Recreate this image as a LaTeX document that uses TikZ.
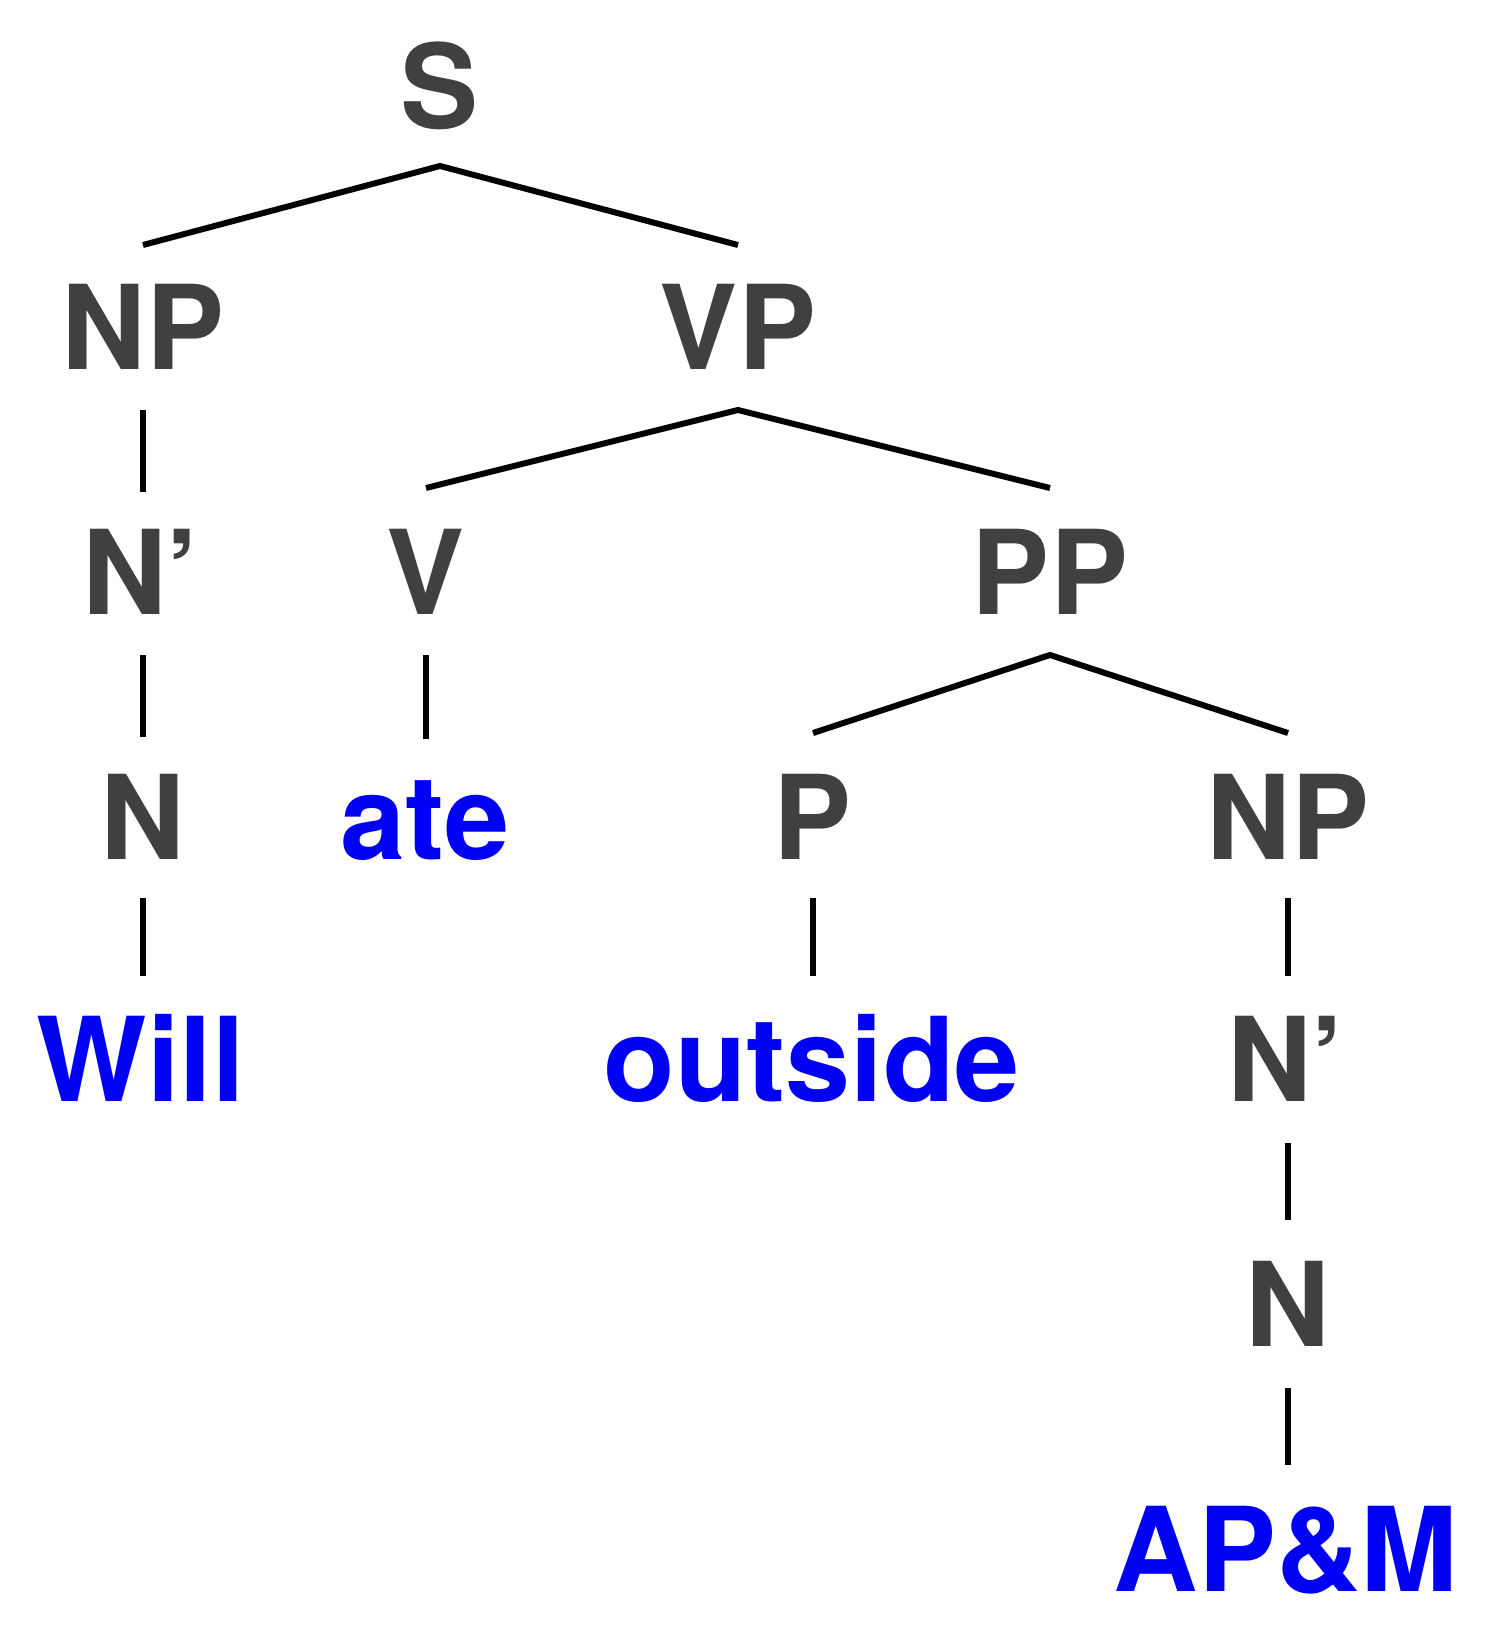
\documentclass[tikz,border=0pt]{standalone}
\usepackage{fontspec}
\setmainfont{TeX Gyre Heros}
\usetikzlibrary{calc}
\definecolor{catgray}{HTML}{404040}
\definecolor{wordblue}{HTML}{0000F5}
\begin{document}
\begin{tikzpicture}[x=0.5pt,y=-0.5pt,
  cat/.style={anchor=base,inner sep=0pt,text=catgray,font=\fontsize{58.5}{58.5}\selectfont\bfseries},
  word/.style={anchor=base,inner sep=0pt,text=wordblue,font=\fontsize{58.5}{58.5}\selectfont\bfseries},
  branch/.style={draw=black,line width=3pt}]
\useasboundingbox (0,0) rectangle (1500,1632);
% row 0
\node[cat] (s) at (440,128) {S};
% row 1
\node[cat] (np1) at (143,369) {NP};
\node[cat] (vp) at (738,369) {VP};
% row 2
\node[cat] (nb1) at (141,614) {N’};
\node[cat] (v) at (426,614) {V};
\node[cat] (pp) at (1050,614) {PP};
% row 3
\node[cat] (n1) at (143,859) {N};
\node[word] (ate) at (425,859) {ate};
\node[cat] (p) at (813,859) {P};
\node[cat] (np2) at (1288,859) {NP};
% row 4
\node[word] (will) at (141,1101) {Will};
\node[word] (outside) at (812,1101) {outside};
\node[cat] (nb2) at (1286,1101) {N’};
% row 5
\node[cat] (n2) at (1288,1346) {N};
% row 6
\node[word] (apm) at (1286,1591) {AP\&M};
% branches
\draw[branch] ($(np1.base)+(0,-124)$) -- ($(s.base)+(0,38)$) -- ($(vp.base)+(0,-124)$);
\draw[branch] ($(v.base)+(0,-126)$) -- ($(vp.base)+(0,41)$) -- ($(pp.base)+(0,-126)$);
\draw[branch] ($(p.base)+(0,-126)$) -- ($(pp.base)+(0,41)$) -- ($(np2.base)+(0,-126)$);
\draw[branch] ($(np1.base)+(0,41)$) -- ($(np1.base |- nb1.base)+(0,-122)$);
\draw[branch] ($(nb1.base -| np1.base)+(0,41)$) -- ($(np1.base |- n1.base)+(0,-122)$);
\draw[branch] ($(n1.base)+(0,39)$) -- ($(n1.base |- will.base)+(0,-125)$);
\draw[branch] ($(v.base)+(0,41)$) -- ($(v.base |- ate.base)+(0,-120)$);
\draw[branch] ($(p.base)+(0,39)$) -- ($(p.base |- outside.base)+(0,-125)$);
\draw[branch] ($(np2.base)+(0,39)$) -- ($(np2.base |- nb2.base)+(0,-125)$);
\draw[branch] ($(nb2.base -| np2.base)+(0,42)$) -- ($(np2.base |- n2.base)+(0,-126)$);
\draw[branch] ($(n2.base)+(0,42)$) -- ($(n2.base |- apm.base)+(0,-126)$);
\end{tikzpicture}
\end{document}
